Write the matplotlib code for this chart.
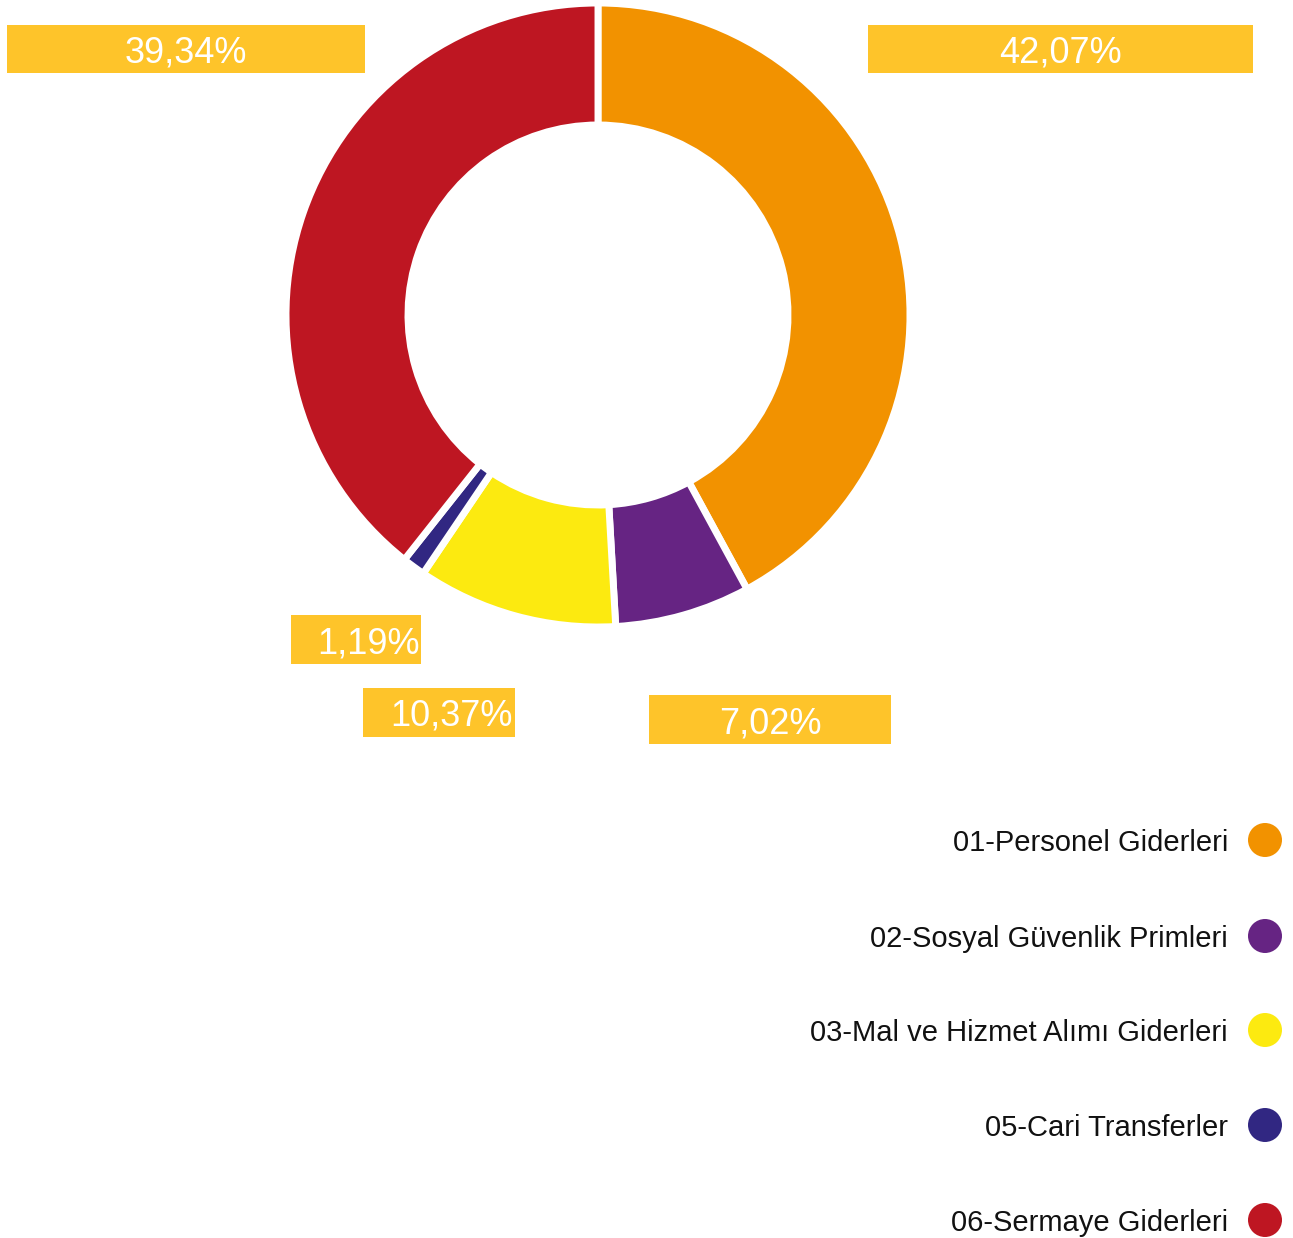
import matplotlib
matplotlib.use('Agg')
import matplotlib.pyplot as plt
from matplotlib.patches import Rectangle, Circle

plt.rcParams['font.family'] = ['Liberation Sans', 'DejaVu Sans']

# budget shares by expense group (%)
categories = ['01-Personel Giderleri', '02-Sosyal Güvenlik Primleri',
              '03-Mal ve Hizmet Alımı Giderleri', '05-Cari Transferler',
              '06-Sermaye Giderleri']
shares = [42.07, 7.02, 10.37, 1.19, 39.34]
colors = ['#F29200', '#662483', '#FCEA10', '#312782', '#BE1622']

W, H = 1293, 1238
fig = plt.figure(figsize=(W / 100, H / 100), dpi=100)
ax = fig.add_axes([0, 0, 1, 1])

# donut, centre given in pixel units (y measured from the bottom)
cx, cy, R = 598, H - 315, 312
ax.pie(shares, colors=colors, startangle=90, counterclock=False,
       center=(cx, cy), radius=R,
       wedgeprops=dict(width=122, edgecolor='white', linewidth=5))

# label boxes: (x0, y_top, x1, y_bottom, text anchor x, alignment)
boxes = [
    (868, 25, 1253, 73, 1060, 'center'),
    (649, 695, 891, 744, 770, 'center'),
    (363, 688, 515, 737, 513, 'right'),
    (291, 615, 421, 664, 420, 'right'),
    (7, 25, 365, 73, 186, 'center'),
]
box_color = '#FEC42A'
for val, (x0, y0, x1, y1, tx, ha) in zip(shares, boxes):
    ax.add_patch(Rectangle((x0, H - y1), x1 - x0, y1 - y0,
                           facecolor=box_color, edgecolor='none'))
    ax.text(tx, H - (y0 + y1) / 2, f'{val:.2f}%'.replace('.', ','),
            color='white', fontsize=26, ha=ha, va='center_baseline')

# legend on the lower right
leg_y = [840, 936, 1030, 1125, 1220]
for name, col, y in zip(categories, colors, leg_y):
    ax.add_patch(Circle((1265, H - y), 17, facecolor=col, edgecolor='none'))
    ax.text(1228, H - y, name, fontsize=21, ha='right', va='center_baseline',
            color='#111111')

ax.set_xlim(0, W)
ax.set_ylim(0, H)
ax.set_aspect('auto')
ax.axis('off')

fig.savefig('out.png', dpi=100, facecolor='white')
